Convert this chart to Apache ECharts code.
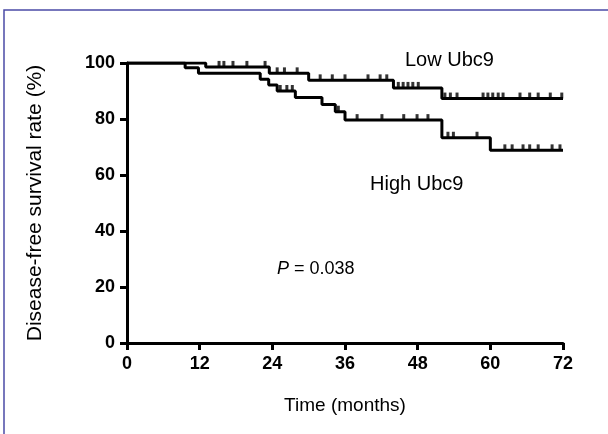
<!DOCTYPE html>
<html>
<head>
<meta charset="utf-8">
<script src="https://cdn.jsdelivr.net/npm/echarts@6/dist/echarts.min.js"></script>
<style>
  html, body { margin: 0; padding: 0; background: #fff; }
  #chart { width: 608px; height: 434px; }
</style>
</head>
<body>
<div id="chart"></div>
<script>
// time axis (months) and rate axis ticks
const xTicks = [0, 12, 24, 36, 48, 60, 72];
const yTicks = [0, 20, 40, 60, 80, 100];

// Low Ubc9 group: event times and survival after each step
const lowTimes = [0, 13, 23.5, 30, 44, 52, 72];
const lowRates = [100, 98.6, 96.3, 93.8, 91.1, 87.3, 87.3];
const lowCensored = [15.2, 16, 17.5, 19.8, 22.8, 24.8, 26, 28.1, 31.9, 33.9, 36, 39.8, 41.8, 42.9,
  44.8, 45.6, 46.4, 47.2, 48.1, 52.5, 53.4, 54.5, 58.8, 59.6, 60.4, 61.3, 62.1, 64.9, 66.5, 67.9, 69.9, 71.8];

// High Ubc9 group
const highTimes = [0, 9.6, 11.8, 22, 23.4, 24.8, 27.8, 32.2, 34.4, 36, 52, 60, 72];
const highRates = [100, 98.3, 96.3, 94.2, 92.1, 90, 87.7, 85.2, 82.6, 79.6, 73.3, 68.8, 68.8];
const highCensored = [25.3, 26.4, 27.3, 34.9, 38, 42.1, 45.7, 47.9, 49.7, 53, 53.9, 57.8,
  62.4, 63.6, 65.4, 66.5, 67.9, 70.2, 71.5];

const pValue = '0.038';

function levelAt (times, rates, t) {
  let v = rates[0];
  for (let i = 0; i < times.length; i++) {
    if (times[i] <= t) v = rates[i];
  }
  return v;
}

function curve (times, rates) {
  return times.map((t, i) => [t, rates[i]]);
}

function ticks (times, rates, cens) {
  return cens.map(t => [t, levelAt(times, rates, t)]);
}

const font = '"Liberation Sans", Arial, sans-serif';
const dom = document.getElementById('chart');
const chart = echarts.init(dom, null, { renderer: 'canvas' });

const lineStyle = { color: '#000', width: 3 };
const tickMark = {
  type: 'scatter',
  symbol: 'rect',
  symbolSize: [3, 6],
  symbolOffset: [0, '-50%'],
  itemStyle: { color: '#000' },
  silent: true,
  z: 3
};

const option = {
  backgroundColor: '#fff',
  animation: false,
  grid: { left: 127, right: 45, top: 63, bottom: 91 },
  xAxis: {
    type: 'value',
    min: 0,
    max: 72,
    interval: 12,
    name: 'Time (months)',
    nameLocation: 'middle',
    nameGap: 53,
    nameTextStyle: { color: '#000', fontSize: 19, fontFamily: font },
    splitLine: { show: false },
    axisLine: { lineStyle: { color: '#000', width: 3 } },
    axisTick: { length: 7, lineStyle: { color: '#000', width: 3 } },
    axisLabel: {
      color: '#000', fontSize: 18, fontWeight: 'bold', fontFamily: font, margin: 12,
      formatter: v => (xTicks.indexOf(v) >= 0 ? String(v) : '')
    }
  },
  yAxis: {
    type: 'value',
    min: 0,
    max: 100,
    interval: 20,
    name: 'Disease-free survival rate (%)',
    nameLocation: 'middle',
    nameGap: 81,
    nameTextStyle: { color: '#000', fontSize: 21, fontFamily: font },
    splitLine: { show: false },
    axisLine: { show: true, lineStyle: { color: '#000', width: 3 } },
    axisTick: { show: true, length: 7, lineStyle: { color: '#000', width: 3 } },
    axisLabel: {
      color: '#000', fontSize: 18, fontWeight: 'bold', fontFamily: font, margin: 12,
      formatter: v => (yTicks.indexOf(v) >= 0 ? String(v) : '')
    }
  },
  series: [
    {
      name: 'Low Ubc9',
      type: 'line',
      step: 'end',
      symbol: 'none',
      lineStyle: lineStyle,
      data: curve(lowTimes, lowRates),
      z: 2
    },
    {
      name: 'High Ubc9',
      type: 'line',
      step: 'end',
      symbol: 'none',
      lineStyle: lineStyle,
      data: curve(highTimes, highRates),
      z: 2
    },
    Object.assign({ name: 'Low censored', data: ticks(lowTimes, lowRates, lowCensored) }, tickMark),
    Object.assign({ name: 'High censored', data: ticks(highTimes, highRates, highCensored) }, tickMark)
  ],
  graphic: [
    {
      type: 'rect',
      shape: { x: 4, y: 10, width: 640, height: 460 },
      style: { fill: 'none', stroke: '#4b4ba6', lineWidth: 1.5 },
      silent: true
    },
    {
      type: 'text', x: 405, y: 50,
      style: { text: 'Low Ubc9', font: '20px ' + font, fill: '#000' }
    },
    {
      type: 'text', x: 370, y: 174,
      style: { text: 'High Ubc9', font: '20px ' + font, fill: '#000' }
    },
    {
      type: 'text', x: 277, y: 260,
      style: {
        text: '{i|P} = ' + pValue,
        font: '18px ' + font,
        fill: '#000',
        rich: { i: { fontStyle: 'italic', fontSize: 18, fontFamily: font, fill: '#000' } }
      }
    }
  ]
};

chart.setOption(option);
window.addEventListener('resize', () => chart.resize());
</script>
</body>
</html>
